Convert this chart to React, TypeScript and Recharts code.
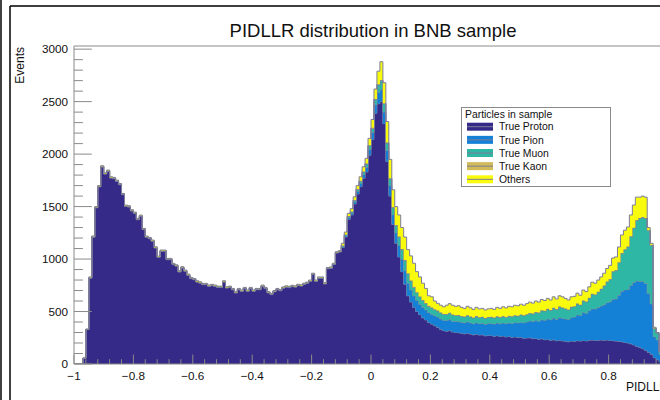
import { AreaChart, Area, XAxis, YAxis, ReferenceLine, Legend } from 'recharts';

// 200 bins of width 0.01 from -1 to 1
const binLow = -1;
const binWidth = 0.01;

// events per bin (rows of 10 bins)
const trueProton = [
  0, 0, 0, 55, 328, 818, 1208, 1488, 1688, 1877,
  1810, 1836, 1772, 1766, 1740, 1708, 1613, 1502, 1496, 1458,
  1435, 1375, 1407, 1280, 1207, 1194, 1169, 1105, 1016, 1074,
  1074, 994, 994, 947, 933, 877, 915, 883, 845, 813,
  803, 781, 771, 756, 756, 740, 747, 740, 730, 730,
  781, 724, 730, 708, 677, 708, 693, 718, 693, 718,
  693, 708, 708, 740, 718, 678, 661, 688, 708, 698,
  723, 733, 728, 738, 733, 748, 743, 758, 768, 788,
  853, 788, 818, 818, 763, 908, 913, 948, 1058, 1068,
  1110, 1210, 1380, 1420, 1525, 1620, 1690, 1770, 1830, 1990,
  2140, 2390, 2480, 2500, 2290, 1930, 1600, 1330, 1150, 1020,
  880, 760, 650, 590, 540, 500, 470, 440, 420, 395,
  380, 365, 350, 330, 318, 312, 320, 305, 300, 298,
  292, 288, 294, 285, 278, 284, 276, 278, 268, 272,
  272, 264, 270, 262, 266, 258, 262, 255, 258, 252,
  255, 246, 248, 250, 242, 244, 236, 240, 232, 234,
  226, 230, 222, 226, 220, 216, 212, 218, 216, 222,
  218, 224, 220, 226, 228, 224, 226, 228, 226, 228,
  224, 222, 218, 216, 212, 206, 200, 192, 182, 170,
  158, 146, 132, 112, 92, 60, 40, 20, 5, 0,
];

const truePion = [
  0, 0, 0, 0, 1, 3, 3, 3, 3, 3,
  3, 3, 3, 3, 3, 3, 3, 3, 3, 3,
  3, 3, 3, 3, 3, 3, 3, 3, 3, 3,
  3, 3, 3, 3, 3, 3, 3, 3, 3, 3,
  3, 3, 3, 3, 3, 3, 3, 3, 3, 3,
  3, 3, 3, 3, 3, 3, 3, 3, 3, 3,
  3, 3, 3, 3, 3, 3, 3, 3, 3, 3,
  3, 3, 3, 3, 3, 3, 3, 3, 3, 3,
  3, 3, 3, 3, 3, 3, 3, 3, 3, 3,
  10, 12, 15, 18, 20, 25, 30, 35, 45, 55,
  65, 80, 110, 115, 110, 105, 100, 95, 100, 110,
  120, 130, 120, 115, 110, 105, 100, 100, 95, 95,
  95, 95, 98, 100, 100, 102, 104, 103, 104, 106,
  105, 104, 108, 107, 105, 110, 108, 110, 110, 113,
  115, 116, 120, 121, 125, 126, 130, 132, 137, 139,
  144, 147, 153, 160, 162, 170, 172, 182, 185, 195,
  196, 208, 204, 216, 216, 214, 212, 226, 232, 246,
  244, 266, 264, 282, 298, 300, 312, 324, 338, 356,
  368, 396, 402, 440, 482, 500, 510, 556, 594, 620,
  630, 640, 636, 560, 480, 200, 190, 70, 10, 0,
];

const trueMuon = [
  0, 0, 0, 0, 1, 2, 2, 2, 2, 2,
  2, 2, 2, 2, 2, 2, 2, 2, 2, 2,
  2, 2, 2, 2, 2, 2, 2, 2, 2, 2,
  2, 2, 2, 2, 2, 2, 2, 2, 2, 2,
  2, 2, 2, 2, 2, 2, 2, 2, 2, 2,
  2, 2, 2, 2, 2, 2, 2, 2, 2, 2,
  2, 2, 2, 2, 2, 2, 2, 2, 2, 2,
  2, 2, 2, 2, 2, 2, 2, 2, 2, 2,
  2, 2, 2, 2, 2, 2, 2, 2, 2, 2,
  8, 10, 12, 12, 15, 18, 22, 25, 30, 35,
  40, 50, 70, 85, 80, 70, 65, 65, 70, 80,
  90, 95, 90, 85, 80, 75, 70, 65, 62, 60,
  60, 58, 58, 58, 56, 60, 62, 60, 58, 60,
  58, 57, 60, 58, 56, 60, 58, 59, 57, 59,
  60, 59, 62, 61, 63, 62, 64, 64, 66, 66,
  69, 68, 71, 74, 74, 79, 80, 86, 88, 94,
  90, 96, 94, 102, 100, 96, 92, 98, 100, 106,
  100, 112, 108, 120, 140, 136, 148, 162, 180, 198,
  216, 262, 272, 310, 360, 384, 406, 466, 520, 580,
  600, 612, 620, 600, 560, 80, 65, 28, 5, 0,
];

const trueKaon = [
  0, 0, 0, 0, 0, 1, 1, 1, 1, 1,
  1, 1, 1, 1, 1, 1, 1, 1, 1, 1,
  1, 1, 1, 1, 1, 1, 1, 1, 1, 1,
  1, 1, 1, 1, 1, 1, 1, 1, 1, 1,
  1, 1, 1, 1, 1, 1, 1, 1, 1, 1,
  1, 1, 1, 1, 1, 1, 1, 1, 1, 1,
  1, 1, 1, 1, 1, 1, 1, 1, 1, 1,
  1, 1, 1, 1, 1, 1, 1, 1, 1, 1,
  1, 1, 1, 1, 1, 1, 1, 1, 1, 1,
  2, 2, 3, 3, 3, 4, 4, 4, 5, 5,
  5, 5, 5, 5, 5, 5, 5, 5, 5, 5,
  5, 5, 5, 5, 5, 4, 4, 4, 4, 4,
  4, 3, 3, 3, 3, 3, 3, 3, 3, 3,
  3, 3, 3, 3, 3, 3, 3, 3, 3, 3,
  3, 3, 3, 3, 3, 3, 3, 3, 3, 3,
  3, 3, 3, 3, 3, 3, 3, 3, 3, 3,
  3, 3, 3, 3, 3, 3, 3, 3, 3, 3,
  3, 3, 3, 3, 3, 3, 3, 3, 3, 3,
  3, 3, 3, 3, 3, 3, 3, 3, 3, 3,
  3, 3, 3, 3, 2, 1, 1, 0, 0, 0,
];

const others = [
  0, 0, 0, 2, 3, 6, 6, 6, 6, 6,
  6, 6, 6, 6, 6, 6, 6, 6, 6, 6,
  6, 6, 6, 6, 6, 6, 6, 6, 6, 6,
  6, 6, 6, 6, 6, 6, 6, 6, 6, 6,
  6, 6, 6, 6, 6, 6, 6, 6, 6, 6,
  6, 6, 6, 6, 6, 6, 6, 6, 6, 6,
  6, 6, 6, 6, 6, 6, 6, 6, 6, 6,
  6, 6, 6, 6, 6, 6, 6, 6, 6, 6,
  6, 6, 6, 6, 6, 6, 6, 6, 6, 6,
  20, 23, 25, 27, 30, 33, 38, 45, 50, 65,
  80, 95, 125, 175, 195, 200, 180, 165, 175, 205,
  205, 220, 225, 235, 225, 196, 186, 161, 139, 96,
  101, 79, 69, 69, 68, 83, 86, 89, 85, 88,
  82, 78, 85, 82, 78, 83, 80, 80, 77, 78,
  80, 78, 85, 83, 88, 86, 91, 91, 96, 95,
  99, 96, 100, 103, 99, 104, 99, 104, 97, 99,
  95, 103, 97, 103, 101, 96, 91, 95, 94, 98,
  90, 100, 95, 104, 111, 107, 111, 113, 118, 125,
  129, 127, 125, 146, 173, 182, 186, 203, 216, 217,
  199, 199, 199, 25, 16, 9, 4, 2, 0, 0,
];

const seriesKeys = ['proton', 'pion', 'muon', 'kaon', 'others'];
const seriesNames = ['True Proton', 'True Pion', 'True Muon', 'True Kaon', 'Others'];
const seriesColors = ['#352a87', '#1481d6', '#2eb7a4', '#d1bb59', '#f9fb0e'];
const seriesCounts = [trueProton, truePion, trueMuon, trueKaon, others];

const xMajor = [-1, -0.8, -0.6, -0.4, -0.2, 0, 0.2, 0.4, 0.6, 0.8];
const yMajor = [0, 500, 1000, 1500, 2000, 2500, 3000];

const FONT = '"Liberation Sans", Arial, Helvetica, sans-serif';
const AXIS = '#8a8a8a';
const OUTLINE = '#7d7d9a';
const PLOT_LEFT = 74;
const PLOT_BOTTOM = 364;
const Y_MAX = 3030;

const rows: any[] = trueProton.map((_, i) => {
  const r: any = { x: binLow + i * binWidth };
  seriesKeys.forEach((k, s) => { r[k] = seriesCounts[s][i]; });
  return r;
});
// upper edge of the last bin so the step line closes
rows.push({ x: 1, proton: 0, pion: 0, muon: 0, kaon: 0, others: 0 });

// minor ticks every 0.04 on x, every 100 on y
const xTicks: number[] = [];
for (let k = 0; k < 50; k++) xTicks.push(Math.round((-1 + k * 0.04) * 100) / 100);
const yTicks: number[] = [];
for (let v = 0; v <= 3000; v += 100) yTicks.push(v);

const fmtX = (v: number) => String(Math.round(v * 10) / 10).replace('-', '\u2212');

function XTick(props: any) {
  const { x, payload } = props;
  const v = payload.value;
  const major = xMajor.some((m) => Math.abs(m - v) < 1e-6);
  return (
    <g>
      <line x1={x} x2={x} y1={PLOT_BOTTOM} y2={PLOT_BOTTOM - (major ? 9.5 : 4.8)} stroke={AXIS} />
      {major && (
        <text x={x} y={PLOT_BOTTOM + 16} textAnchor="middle" fontFamily={FONT} fontSize={11.7} fill="#111">
          {fmtX(v)}
        </text>
      )}
    </g>
  );
}

function YTick(props: any) {
  const { y, payload } = props;
  const v = payload.value;
  const major = yMajor.includes(v);
  return (
    <g>
      <line x1={PLOT_LEFT} x2={PLOT_LEFT + (major ? 17.8 : 8.9)} y1={y} y2={y} stroke={AXIS} />
      {major && (
        <text x={PLOT_LEFT - 6} y={y + 4} textAnchor="end" fontFamily={FONT} fontSize={11.7} fill="#111">
          {v}
        </text>
      )}
    </g>
  );
}

function LegendBox() {
  return (
    <svg width={150} height={80} style={{ display: 'block' }}>
      <rect x={0.5} y={0.5} width={149} height={79} fill="#fff" stroke={AXIS} />
      <text x={4} y={10.8} fontFamily={FONT} fontSize={10.4} fill="#111">Particles in sample</text>
      {seriesNames.map((name, i) => {
        const cy = 19.7 + i * 13.15;
        return (
          <g key={name}>
            <rect x={6} y={cy - 4} width={26} height={8} fill={seriesColors[i]} />
            <line x1={6} x2={32} y1={cy} y2={cy} stroke={OUTLINE} strokeWidth={1} />
            <text x={38} y={cy + 3.7} fontFamily={FONT} fontSize={10.4} fill="#111">{name}</text>
          </g>
        );
      })}
    </svg>
  );
}

export default function App() {
  return (
    <div style={{ position: 'absolute', left: 0, top: 0, width: 660, height: 400, overflow: 'hidden', background: '#fff' }}>
      <AreaChart width={680} height={400} data={rows} margin={{ top: 46, right: 12, bottom: 6, left: 0 }}>
        <XAxis
          type="number"
          dataKey="x"
          domain={[-1, 1]}
          ticks={xTicks}
          interval={0}
          tick={(p: any) => <XTick {...p} />}
          tickLine={false}
          axisLine={{ stroke: AXIS }}
          height={30}
          allowDataOverflow
        />
        <YAxis
          type="number"
          domain={[0, Y_MAX]}
          ticks={yTicks}
          interval={0}
          tick={(p: any) => <YTick {...p} />}
          tickLine={false}
          axisLine={{ stroke: AXIS }}
          width={74}
          allowDataOverflow
        />
        {seriesKeys.map((k, i) => (
          <Area
            key={k}
            type="stepAfter"
            dataKey={k}
            name={seriesNames[i]}
            stackId="pid"
            stroke={OUTLINE}
            strokeWidth={1}
            fill={seriesColors[i]}
            fillOpacity={1}
            dot={false}
            activeDot={false}
            isAnimationActive={false}
          />
        ))}
        <ReferenceLine y={Y_MAX} stroke={AXIS} />
        <Legend
          layout="horizontal"
          verticalAlign="middle"
          align="center"
          content={() => <LegendBox />}
          wrapperStyle={{ position: 'absolute', left: 461, top: 107, width: 150, height: 80 }}
        />
      </AreaChart>
      <svg width={660} height={400} style={{ position: 'absolute', left: 0, top: 0, pointerEvents: 'none' }}>
        <line x1={1} x2={1} y1={0} y2={400} stroke="#000" strokeWidth={1.5} />
        <line x1={10} x2={10} y1={6} y2={400} stroke="#000" strokeWidth={1.5} />
        <line x1={10} x2={660} y1={6} y2={6} stroke="#000" strokeWidth={1.5} />
        <text x={373} y={37} textAnchor="middle" fontFamily={FONT} fontSize={18.5} fill="#111">
          PIDLLR distribution in BNB sample
        </text>
        <text transform="translate(24,47) rotate(-90)" textAnchor="end" fontFamily={FONT} fontSize={12} fill="#111">
          Events
        </text>
        <text x={668} y={391} textAnchor="end" fontFamily={FONT} fontSize={12} fill="#111">
          PIDLLR
        </text>
      </svg>
    </div>
  );
}
